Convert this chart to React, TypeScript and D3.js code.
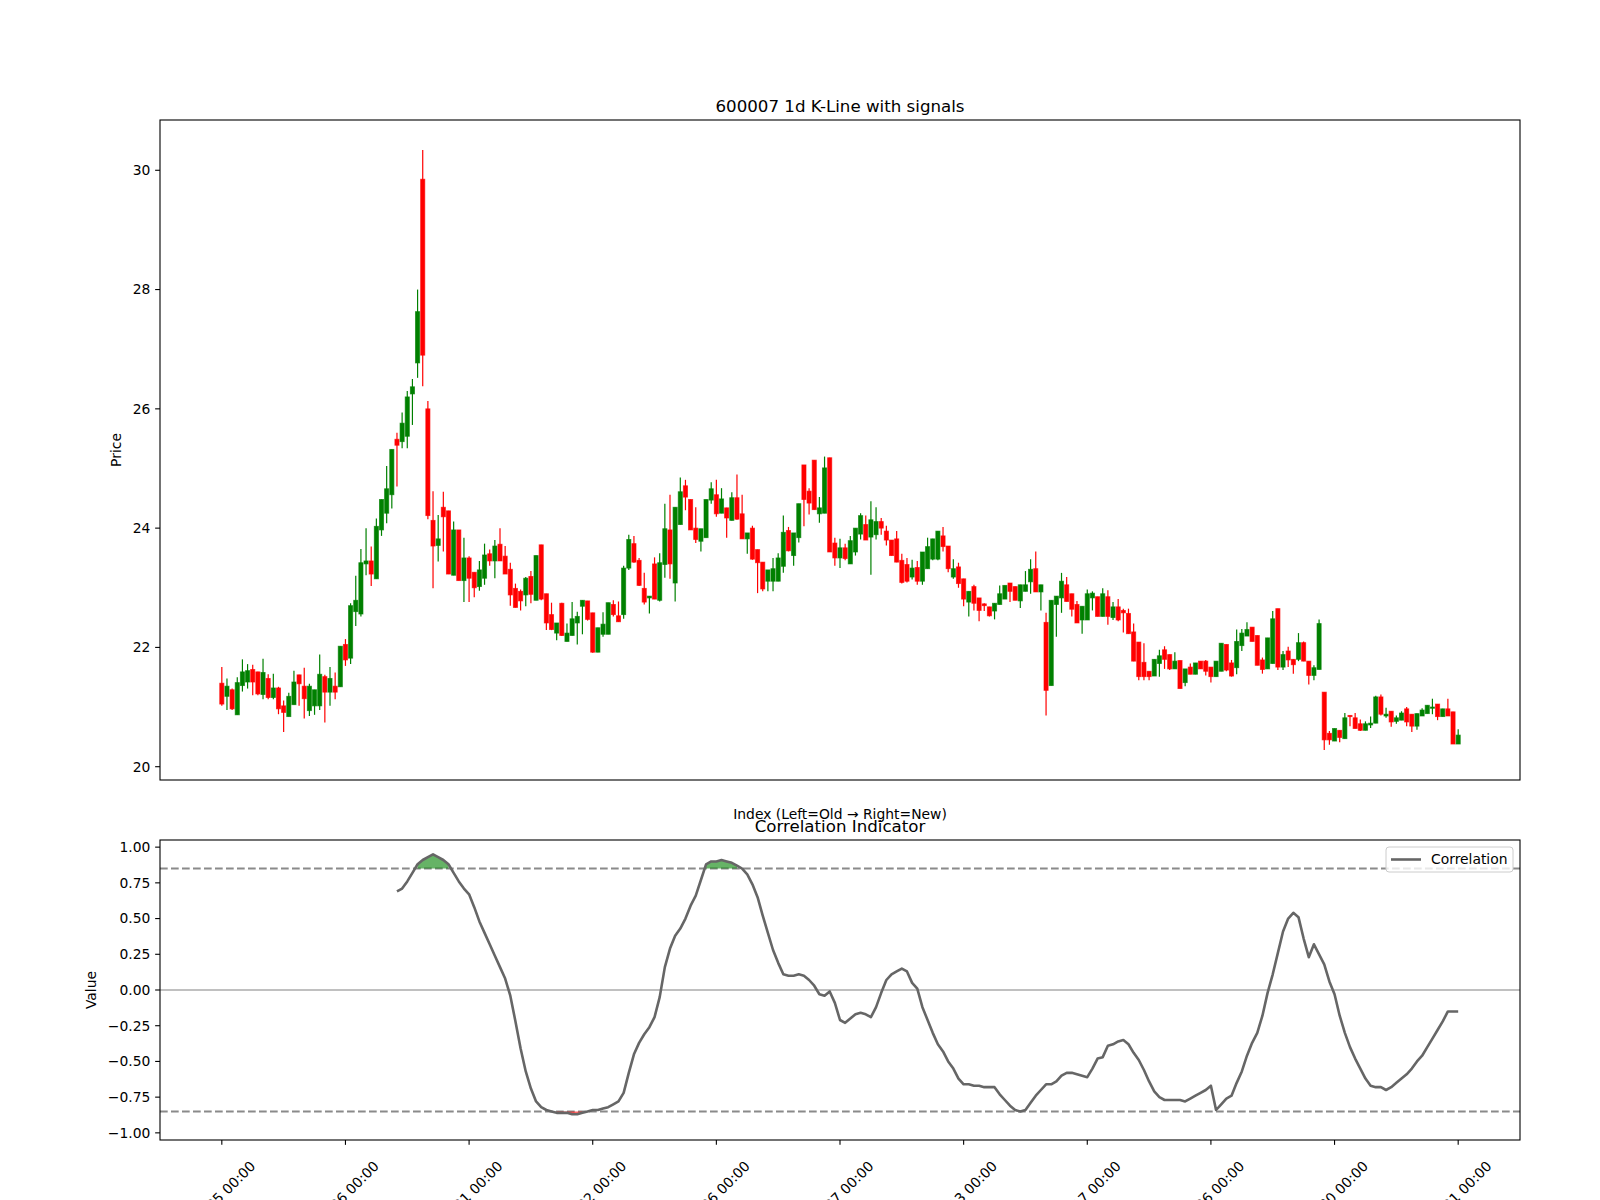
import React from 'react';
import * as d3 from 'd3';

// ---------- Data ----------
const opens = [21.40,21.18,21.29,20.87,21.36,21.42,21.63,21.59,21.21,21.48,21.16,21.32,21.02,20.84,21.04,21.54,21.35,20.94,21.02,21.02,
21.51,21.25,21.35,21.34,22.05,21.82,22.60,22.56,23.40,23.45,23.15,23.97,24.25,24.56,25.49,25.45,25.54,26.25,26.77,29.85,
26.00,24.13,23.71,24.35,24.29,23.21,23.97,23.12,23.50,23.26,23.02,23.16,23.57,23.45,23.73,23.53,23.31,22.99,22.94,22.88,
23.19,22.79,23.72,22.90,22.55,22.24,22.74,22.10,22.20,22.41,22.69,22.78,22.58,21.92,22.22,22.22,22.72,22.53,22.55,23.33,
23.74,23.46,22.99,22.83,23.40,22.79,23.39,23.97,23.08,24.06,24.71,24.48,24.00,23.78,23.84,24.47,24.56,24.25,24.34,24.13,
24.51,24.24,23.82,24.00,23.64,23.43,23.11,23.11,23.11,23.36,23.96,23.54,23.84,25.06,24.62,25.14,24.24,24.25,25.18,23.75,
23.50,23.67,23.40,23.60,23.90,24.06,23.85,23.89,24.11,23.95,23.80,23.82,23.46,23.39,23.18,23.34,23.11,23.32,23.48,23.48,
23.87,23.70,23.18,23.35,23.15,22.76,23.02,22.83,22.73,22.68,22.61,22.72,22.81,23.08,23.02,22.78,22.94,23.10,23.32,22.93,
22.42,21.36,22.72,22.83,23.05,22.90,22.72,22.46,22.46,22.83,22.85,22.52,22.85,22.50,22.68,22.62,22.57,22.26,22.09,21.75,
21.60,21.52,21.73,21.96,21.88,21.64,21.78,21.41,21.67,21.55,21.77,21.77,21.67,21.51,21.60,22.05,21.74,21.66,22.03,22.19,
22.34,22.20,21.79,21.64,21.73,22.65,21.67,21.94,21.80,21.80,22.08,21.77,21.53,21.63,21.25,20.56,20.43,20.61,20.47,20.86,
20.82,20.72,20.61,20.70,20.73,21.17,20.85,20.93,20.76,20.78,20.97,20.88,20.68,20.85,20.89,20.98,21.05,20.84,20.97,20.92,
20.38];
const highs = [21.67,21.48,21.31,21.50,21.80,21.72,21.71,21.59,21.81,21.55,21.56,21.34,21.11,21.24,21.61,21.54,21.66,21.39,21.29,21.88,
21.54,21.67,21.58,22.02,22.14,22.74,23.20,23.65,24.00,23.69,24.16,24.48,25.04,25.32,25.60,25.94,26.30,26.50,28.00,30.34,
26.13,24.62,24.22,24.61,24.29,24.11,23.97,23.84,23.53,23.26,23.45,23.74,23.64,23.80,24.00,23.70,23.42,23.07,22.97,23.18,
23.28,23.54,23.72,22.90,22.75,22.41,22.75,22.40,22.76,22.60,22.79,22.78,22.58,22.33,22.59,22.75,22.79,22.77,23.37,23.89,
23.87,23.50,23.25,22.86,23.51,23.58,24.41,24.56,24.35,24.85,24.81,24.48,24.35,23.99,24.48,24.77,24.81,24.67,24.34,24.60,
24.90,24.56,23.92,24.04,23.64,23.43,23.30,23.50,23.58,24.21,24.02,23.92,24.41,25.06,24.67,25.14,24.52,25.20,25.18,23.84,
23.82,23.74,23.87,24.00,24.25,24.21,24.45,24.35,24.17,24.04,23.80,23.95,23.57,23.50,23.47,23.45,23.60,23.84,23.82,23.95,
24.02,23.70,23.48,23.42,23.15,22.94,23.05,22.83,22.74,22.68,22.74,23.04,23.04,23.08,23.02,23.05,23.28,23.48,23.61,23.05,
22.58,22.79,22.86,23.25,23.18,22.90,22.78,22.69,22.97,22.94,22.85,22.99,22.96,22.76,22.81,22.65,22.65,22.40,22.09,22.07,
21.60,21.80,21.96,22.02,21.88,21.92,21.78,21.64,21.73,21.74,21.77,21.79,21.67,21.77,22.07,22.05,21.79,22.30,22.31,22.42,
22.34,22.20,21.83,22.16,22.61,22.65,21.94,22.01,21.80,22.24,22.10,21.77,21.70,22.47,21.25,20.60,20.64,20.61,20.90,20.86,
20.90,20.79,20.76,20.84,21.19,21.21,20.99,20.93,20.86,20.93,21.00,20.88,20.89,20.98,21.03,21.14,21.05,20.97,21.14,20.92,
20.63];
const lows = [21.02,20.95,20.95,20.87,21.26,21.31,21.20,21.20,21.13,21.13,21.13,20.88,20.58,20.84,21.04,21.02,20.81,20.85,20.87,20.95,
20.74,21.02,21.13,21.34,21.69,21.72,22.36,22.52,23.21,23.03,23.15,23.87,24.08,24.33,24.70,25.34,25.34,25.73,26.52,26.38,
24.15,22.99,23.44,23.61,23.23,23.21,23.12,22.76,22.76,22.84,22.95,23.05,23.37,23.16,23.45,23.23,22.70,22.67,22.62,22.69,
22.74,22.79,22.79,22.29,22.29,22.12,22.19,22.10,22.20,22.05,22.22,22.45,21.91,21.92,22.18,22.22,22.52,22.43,22.48,23.30,
23.42,23.03,22.72,22.57,22.81,22.77,23.17,23.15,22.77,24.06,24.30,23.97,23.75,23.61,23.84,24.41,24.19,24.25,23.84,24.13,
24.14,23.82,23.57,23.47,22.91,22.94,22.94,22.94,23.11,23.25,23.61,23.37,23.76,24.03,24.23,24.31,24.09,24.25,23.60,23.37,
23.33,23.46,23.40,23.54,23.81,23.80,23.22,23.81,23.89,23.71,23.54,23.43,23.07,23.09,23.14,23.05,23.05,23.32,23.46,23.46,
23.61,23.26,23.15,23.00,22.69,22.52,22.62,22.44,22.61,22.52,22.47,22.72,22.81,22.76,22.79,22.66,22.94,22.90,22.93,22.62,
20.86,21.36,22.18,22.58,22.77,22.52,22.41,22.23,22.46,22.62,22.52,22.52,22.38,22.46,22.44,22.25,22.23,21.77,21.45,21.45,
21.45,21.52,21.51,21.64,21.62,21.64,21.31,21.35,21.55,21.55,21.64,21.53,21.41,21.51,21.60,21.60,21.51,21.55,21.94,22.19,
22.10,21.70,21.56,21.64,21.73,21.62,21.62,21.67,21.56,21.77,21.77,21.38,21.45,21.63,20.28,20.37,20.43,20.41,20.47,20.68,
20.64,20.60,20.61,20.65,20.73,20.86,20.82,20.67,20.72,20.78,20.68,20.58,20.62,20.85,20.89,20.88,20.78,20.84,20.85,20.38,
20.38];
const closes = [21.05,21.35,20.97,21.41,21.59,21.61,21.42,21.22,21.58,21.16,21.32,20.97,20.91,21.18,21.42,21.39,21.14,21.35,21.29,21.55,
21.25,21.48,21.25,22.02,21.79,22.70,22.79,23.42,23.45,23.23,24.03,24.48,24.66,25.32,25.39,25.76,26.20,26.37,27.63,26.90,
24.21,23.70,23.82,24.19,23.23,23.97,23.12,23.50,23.16,23.00,23.30,23.55,23.45,23.70,23.45,23.23,22.88,22.67,22.78,23.16,
22.89,23.54,22.81,22.41,22.30,22.41,22.20,22.24,22.48,22.52,22.79,22.47,21.92,22.33,22.39,22.75,22.55,22.43,23.33,23.81,
23.43,23.04,22.76,22.86,22.81,23.42,23.99,23.40,24.35,24.61,24.52,23.97,23.81,23.99,24.48,24.66,24.24,24.49,24.17,24.51,
24.15,23.82,23.92,23.48,23.42,22.98,23.30,23.32,23.50,23.93,23.62,23.92,24.41,24.48,24.42,24.31,24.34,25.01,23.60,23.50,
23.67,23.49,23.79,24.00,24.21,23.80,24.14,24.11,24.00,23.80,23.54,23.43,23.09,23.11,23.33,23.11,23.60,23.69,23.82,23.95,
23.69,23.32,23.32,23.07,22.81,22.94,22.74,22.62,22.70,22.53,22.74,22.90,23.04,22.94,22.79,23.05,23.05,23.31,22.93,23.05,
21.28,22.79,22.86,23.11,22.77,22.64,22.41,22.69,22.90,22.91,22.52,22.90,22.52,22.68,22.46,22.58,22.23,21.77,21.51,21.51,
21.51,21.80,21.86,21.80,21.64,21.77,21.31,21.64,21.55,21.74,21.64,21.60,21.51,21.77,22.07,21.62,21.52,22.10,22.24,22.30,
22.10,21.70,21.63,22.16,22.48,21.67,21.88,21.79,21.71,22.08,21.77,21.53,21.66,22.40,20.45,20.45,20.64,20.49,20.82,20.84,
20.64,20.61,20.72,20.73,21.17,20.88,20.88,20.75,20.82,20.90,20.75,20.68,20.89,20.95,21.03,21.00,20.84,20.97,20.85,20.38,
20.53];

const tickIndices = [0, 24, 48, 72, 96, 120, 144, 168, 192, 216, 240];
const tickLabels = ['08-05 00:00', '09-06 00:00', '10-21 00:00', '11-22 00:00', '12-26 00:00', '02-07 00:00',
  '03-13 00:00', '04-17 00:00', '05-26 00:00', '06-30 00:00', '08-01 00:00'];
const priceTicks = [20, 22, 24, 26, 28, 30];
const corrTicks = [-1.0, -0.75, -0.5, -0.25, 0, 0.25, 0.5, 0.75, 1.0];

const corrStart = 34;
const corrValues = [
  0.69,0.71,0.76,0.82,0.88,0.91,0.93,0.95,0.93,0.91,0.88,0.82,0.76,0.71,0.67,0.58,          // 34-49
  0.48,0.40,0.32,0.24,0.16,0.08,-0.04,-0.22,-0.41,-0.57,-0.69,-0.78,-0.82,-0.84,-0.85,-0.86, // 50-65
  -0.86,-0.86,-0.87,-0.87,-0.86,-0.85,-0.84,-0.84,-0.83,-0.82,-0.80,-0.78,-0.72,-0.58,-0.45,-0.37, // 66-81
  -0.31,-0.26,-0.19,-0.05,0.16,0.29,0.38,0.43,0.50,0.59,0.66,0.77,0.88,0.90,0.90,0.91,     // 82-97
  0.90,0.89,0.87,0.85,0.81,0.74,0.65,0.52,0.40,0.28,0.19,0.11,0.10,0.10,0.11,0.10,         // 98-113
  0.07,0.03,-0.03,-0.04,-0.01,-0.09,-0.21,-0.23,-0.20,-0.17,-0.16,-0.17,-0.19,-0.12,-0.02,0.07, // 114-129
  0.11,0.13,0.15,0.13,0.05,0.01,-0.12,-0.21,-0.30,-0.38,-0.43,-0.50,-0.55,-0.62,-0.66,-0.66, // 130-145
  -0.67,-0.67,-0.68,-0.68,-0.68,-0.73,-0.77,-0.81,-0.84,-0.85,-0.84,-0.79,-0.74,-0.70,-0.66,-0.66, // 146-161
  -0.64,-0.60,-0.58,-0.58,-0.59,-0.60,-0.61,-0.55,-0.48,-0.47,-0.39,-0.38,-0.36,-0.35,-0.38,-0.44, // 162-177
  -0.49,-0.56,-0.64,-0.71,-0.75,-0.77,-0.77,-0.77,-0.77,-0.78,-0.76,-0.74,-0.72,-0.70,-0.67,-0.84, // 178-193
  -0.80,-0.76,-0.74,-0.65,-0.57,-0.46,-0.37,-0.30,-0.18,-0.02,0.11,0.26,0.41,0.50,0.54,0.51, // 194-209
  0.36,0.23,0.32,0.25,0.18,0.06,-0.03,-0.18,-0.30,-0.40,-0.48,-0.55,-0.62,-0.67,-0.68,-0.68, // 210-225
  -0.70,-0.68,-0.65,-0.62,-0.59,-0.55,-0.50,-0.46,-0.40,-0.34,-0.28,-0.22,-0.15,-0.15,-0.15  // 226-240
];
const upperThreshold = 0.85;
const lowerThreshold = -0.85;

const FONT = 'DejaVu Sans, sans-serif';

function fmtCorr(v: number) {
  const s = Math.abs(v).toFixed(2);
  return v < 0 ? '\u2212' + s : s;
}

export default function App() {
  const W = 1600, H = 1200;
  const left = 160, right = 1520;
  const t1 = 120, b1 = 780, t2 = 840, b2 = 1140;

  const x = d3.scaleLinear().domain([-12, 252]).range([left, right]);
  const yMin = d3.min(lows) as number, yMax = d3.max(highs) as number;
  const pad = (yMax - yMin) * 0.05;
  const y1 = d3.scaleLinear().domain([yMin - pad, yMax + pad]).range([b1, t1]);
  const y2 = d3.scaleLinear().domain([-1.05, 1.05]).range([b2, t2]);

  const step = x(1) - x(0);
  const bw = step * 0.8;

  const candles = opens.map((o, i) => ({ i, o, h: highs[i], l: lows[i], c: closes[i] }));

  const corr = corrValues.map((v, k) => ({ i: corrStart + k, v }));
  const line = d3.line<{ i: number; v: number }>().x(d => x(d.i)).y(d => y2(d.v));

  // fill_between style runs
  const runs = (pred: (v: number) => boolean) => {
    const out: { i: number; v: number }[][] = [];
    let cur: { i: number; v: number }[] = [];
    corr.forEach(d => {
      if (pred(d.v)) cur.push(d);
      else { if (cur.length) out.push(cur); cur = []; }
    });
    if (cur.length) out.push(cur);
    return out;
  };
  const upRuns = runs(v => v > upperThreshold);
  const dnRuns = runs(v => v < lowerThreshold);
  const areaUp = d3.area<{ i: number; v: number }>().x(d => x(d.i)).y0(() => y2(upperThreshold)).y1(d => y2(d.v));
  const areaDn = d3.area<{ i: number; v: number }>().x(d => x(d.i)).y0(() => y2(lowerThreshold)).y1(d => y2(d.v));

  const labelFs = 13.89;
  const tickLen = 4.86;
  const estW = (s: string) => {
    let w = 0;
    for (const ch of s) {
      if (/[0-9]/.test(ch)) w += 0.636;
      else if (ch === '-') w += 0.361;
      else if (ch === ' ') w += 0.318;
      else if (ch === ':') w += 0.337;
      else w += 0.6;
    }
    return w * labelFs;
  };

  return (
    <div style={{ position: 'absolute', left: 0, top: 0, width: W, height: H, background: '#fff' }}>
      <svg width={W} height={H} style={{ display: 'block' }} fontFamily={FONT}>
        <rect x={0} y={0} width={W} height={H} fill="#fff" />
        <defs>
          <clipPath id="clipTop"><rect x={left} y={t1} width={right - left} height={b1 - t1} /></clipPath>
          <clipPath id="clipBot"><rect x={left} y={t2} width={right - left} height={b2 - t2} /></clipPath>
        </defs>
        {/* ---------- Top: candlesticks ---------- */}
        <g clipPath="url(#clipTop)">
          {candles.map(d => {
            const col = d.c >= d.o ? '#008000' : '#ff0000';
            const top = y1(Math.max(d.o, d.c));
            const bot = y1(Math.min(d.o, d.c));
            return (
              <g key={d.i}>
                <line x1={x(d.i)} x2={x(d.i)} y1={y1(d.h)} y2={y1(d.l)} stroke={col} strokeWidth={1.2} />
                <rect x={x(d.i) - bw / 2} y={top} width={bw} height={Math.max(bot - top, 0.8)} fill={col}
                  stroke={col} strokeOpacity={0.7} strokeWidth={0.9} />
              </g>
            );
          })}
        </g>
        <rect x={left} y={t1} width={right - left} height={b1 - t1} fill="none" stroke="#000" strokeWidth={1.1} />
        {priceTicks.map(t => (
          <g key={t}>
            <line x1={left - tickLen} x2={left} y1={y1(t)} y2={y1(t)} stroke="#000" strokeWidth={1.1} />
            <text x={left - 9.7} y={y1(t)} dy="0.35em" textAnchor="end" fontSize={labelFs}>{t}</text>
          </g>
        ))}
        <text transform={`translate(${121},${(t1 + b1) / 2}) rotate(-90)`} textAnchor="middle" fontSize={labelFs}>Price</text>
        <text x={(left + right) / 2} y={112} textAnchor="middle" fontSize={16.67}>600007 1d K-Line with signals</text>
        <text x={(left + right) / 2} y={819} textAnchor="middle" fontSize={labelFs}>Index (Left=Old → Right=New)</text>

        {/* ---------- Bottom: correlation ---------- */}
        <g clipPath="url(#clipBot)">
          <line x1={left} x2={right} y1={y2(0)} y2={y2(0)} stroke="#ababab" strokeWidth={1.4} />
          <line x1={left} x2={right} y1={y2(upperThreshold)} y2={y2(upperThreshold)} stroke="#8a8a8a" strokeWidth={2} strokeDasharray="7.7,3.3" />
          <line x1={left} x2={right} y1={y2(lowerThreshold)} y2={y2(lowerThreshold)} stroke="#8a8a8a" strokeWidth={2} strokeDasharray="7.7,3.3" />
          {upRuns.map((r, k) => <path key={'u' + k} d={areaUp(r) || ''} fill="green" fillOpacity={0.6} />)}
          {dnRuns.map((r, k) => <path key={'d' + k} d={areaDn(r) || ''} fill="red" fillOpacity={0.6} />)}
          <path d={line(corr) || ''} fill="none" stroke="#666" strokeWidth={2.6} strokeLinejoin="round" />
        </g>
        <rect x={left} y={t2} width={right - left} height={b2 - t2} fill="none" stroke="#000" strokeWidth={1.1} />
        {corrTicks.map(t => (
          <g key={t}>
            <line x1={left - tickLen} x2={left} y1={y2(t)} y2={y2(t)} stroke="#000" strokeWidth={1.1} />
            <text x={left - 9.7} y={y2(t)} dy="0.35em" textAnchor="end" fontSize={labelFs}>{fmtCorr(t)}</text>
          </g>
        ))}
        {tickIndices.map((t, k) => {
          const lbl = tickLabels[k];
          const L = estW(lbl);
          const hgt = labelFs * 1.17;
          const bb = (L + hgt) * Math.SQRT1_2;
          const cy = b2 + 9.7 + bb / 2 + 8;
          return (
            <g key={t}>
              <line x1={x(t)} x2={x(t)} y1={b2} y2={b2 + tickLen} stroke="#000" strokeWidth={1.1} />
              <text transform={`translate(${x(t) + 1},${cy}) rotate(-45)`} textAnchor="middle" dy="0.35em" fontSize={labelFs}>{lbl}</text>
            </g>
          );
        })}
        <text transform={`translate(${96},${(t2 + b2) / 2}) rotate(-90)`} textAnchor="middle" fontSize={labelFs}>Value</text>
        <text x={(left + right) / 2} y={831.7} textAnchor="middle" fontSize={16.67}>Correlation Indicator</text>

        {/* legend */}
        <g>
          <rect x={1386} y={847} width={127} height={25} rx={3} fill="#fff" fillOpacity={0.8} stroke="#cccccc" strokeWidth={1} />
          <line x1={1391} x2={1421} y1={859.5} y2={859.5} stroke="#666" strokeWidth={2.6} />
          <text x={1431} y={859.5} dy="0.35em" fontSize={labelFs}>Correlation</text>
        </g>
      </svg>
    </div>
  );
}
